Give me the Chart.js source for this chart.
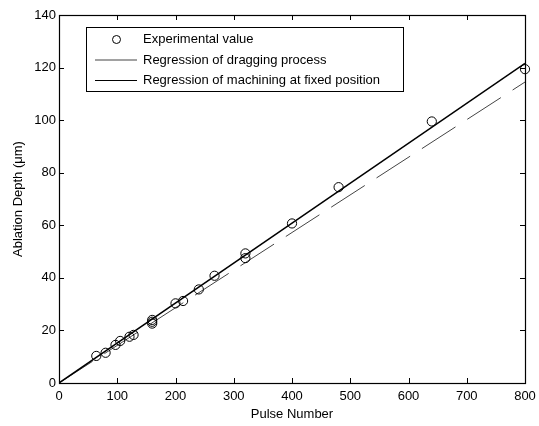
<!DOCTYPE html>
<html>
<head>
<meta charset="utf-8">
<script src="https://cdn.jsdelivr.net/npm/chart.js@4.4.1/dist/chart.umd.min.js"></script>
<style>
  html, body { margin: 0; padding: 0; background: #fff; }
  #wrap { width: 539px; height: 426px; }
</style>
</head>
<body>
<div id="wrap"><canvas id="chart" width="539" height="426"></canvas></div>
<script>
// measured points (pulse number vs ablation depth, um)
const pulseNumbers = [64, 80, 97, 105, 121, 128, 160, 160, 160, 200, 213, 240, 267, 320, 320, 400, 480, 640, 800];
const ablationDepths = [10.3, 11.5, 14.5, 16.0, 17.6, 18.3, 22.6, 23.3, 24.0, 30.3, 31.2, 35.6, 40.8, 49.3, 47.5, 60.7, 74.5, 99.5, 119.4];

// regression lines, end points only
const fitPulses = [0, 800];
const draggingFit = [0, 114.5];
const fixedPositionFit = [0, 121.6];

const xTicks = [0, 100, 200, 300, 400, 500, 600, 700, 800];
const yTicks = [0, 20, 40, 60, 80, 100, 120, 140];

const FONT = { family: "'Liberation Sans', Arial, Helvetica, sans-serif", size: 13 };

const toPoints = (xs, ys) => xs.map((x, i) => ({ x: x, y: ys[i] }));

// MATLAB-like box with inward ticks on all four sides
const frameTicks = {
    id: "frameTicks",
    afterDatasetsDraw(chart) {
        const { ctx, chartArea: a, scales } = chart;
        const len = 5;
        ctx.save();
        ctx.strokeStyle = "#000";
        ctx.lineWidth = 1;
        ctx.beginPath();
        xTicks.forEach((v) => {
            const px = Math.round(scales.x.getPixelForValue(v)) + 0.5;
            ctx.moveTo(px, a.bottom);
            ctx.lineTo(px, a.bottom - len);
            ctx.moveTo(px, a.top);
            ctx.lineTo(px, a.top + len);
        });
        yTicks.forEach((v) => {
            const py = Math.round(scales.y.getPixelForValue(v)) + 0.5;
            ctx.moveTo(a.left, py);
            ctx.lineTo(a.left + len, py);
            ctx.moveTo(a.right, py);
            ctx.lineTo(a.right - len, py);
        });
        ctx.stroke();
        ctx.lineWidth = 1.2;
        ctx.strokeRect(Math.round(a.left) + 0.5, Math.round(a.top) + 0.5,
            Math.round(a.right - a.left), Math.round(a.bottom - a.top));
        ctx.restore();
    },
};

// legend box in the upper-left of the plot
const boxLegend = {
    id: "boxLegend",
    afterDraw(chart) {
        const ctx = chart.ctx;
        const box = { x: 86.5, y: 27.5, w: 317, h: 64 };
        ctx.save();
        ctx.fillStyle = "#fff";
        ctx.fillRect(box.x, box.y, box.w, box.h);
        ctx.strokeStyle = "#000";
        ctx.lineWidth = 1;
        ctx.strokeRect(box.x, box.y, box.w, box.h);
        ctx.font = FONT.size + "px " + FONT.family;
        ctx.textBaseline = "middle";
        ctx.fillStyle = "#000";
        chart.data.datasets.forEach((ds, i) => {
            const y = 39.5 + i * 20.5;
            if (ds.showLine) {
                ctx.beginPath();
                ctx.strokeStyle = ds.borderColor;
                ctx.lineWidth = 1;
                ctx.moveTo(95, y);
                ctx.lineTo(137, y);
                ctx.stroke();
            } else {
                ctx.beginPath();
                ctx.strokeStyle = "#000";
                ctx.lineWidth = 1;
                ctx.arc(116.5, y, 4, 0, Math.PI * 2);
                ctx.stroke();
            }
            ctx.fillText(ds.label, 143, y);
        });
        ctx.restore();
    },
};

new Chart(document.getElementById("chart"), {
    type: "scatter",
    data: {
        datasets: [
            {
                label: "Experimental value",
                data: toPoints(pulseNumbers, ablationDepths),
                showLine: false,
                clip: false,
                pointStyle: "circle",
                pointRadius: 4.6,
                pointBorderWidth: 1,
                pointBorderColor: "#000",
                pointBackgroundColor: "rgba(0,0,0,0)",
                order: 0,
            },
            {
                label: "Regression of dragging process",
                data: toPoints(fitPulses, draggingFit),
                showLine: true,
                borderColor: "#444",
                borderWidth: 1,
                borderDash: [40, 14],
                pointRadius: 0,
                order: 2,
            },
            {
                label: "Regression of machining at fixed position",
                data: toPoints(fitPulses, fixedPositionFit),
                showLine: true,
                borderColor: "#000",
                borderWidth: 1.5,
                pointRadius: 0,
                order: 1,
            },
        ],
    },
    options: {
        responsive: false,
        animation: false,
        layout: { padding: { left: 0, right: 14, top: 15, bottom: 0 } },
        plugins: {
            legend: { display: false },
            tooltip: { enabled: false },
        },
        scales: {
            x: {
                type: "linear",
                min: 0,
                max: 800,
                afterBuildTicks: (s) => { s.ticks = xTicks.map((v) => ({ value: v })); },
                afterFit: (s) => { s.height = 43; s.paddingLeft = 0; s.paddingRight = 0; },
                grid: { display: false, drawTicks: false },
                border: { display: false },
                ticks: { color: "#000", font: FONT, padding: 6, maxRotation: 0 },
                title: {
                    display: true,
                    text: "Pulse Number",
                    color: "#000",
                    font: FONT,
                    padding: { top: 0, bottom: 4 },
                },
            },
            y: {
                type: "linear",
                min: 0,
                max: 140,
                afterBuildTicks: (s) => { s.ticks = yTicks.map((v) => ({ value: v })); },
                afterFit: (s) => { s.width = 59; s.paddingTop = 0; s.paddingBottom = 0; },
                grid: { display: false, drawTicks: false },
                border: { display: false },
                ticks: { color: "#000", font: FONT, padding: 3 },
                title: {
                    display: true,
                    text: "Ablation Depth (\u03bcm)",
                    color: "#000",
                    font: FONT,
                    padding: { top: 11, bottom: 0 },
                },
            },
        },
    },
    plugins: [frameTicks, boxLegend],
});
</script>
</body>
</html>
